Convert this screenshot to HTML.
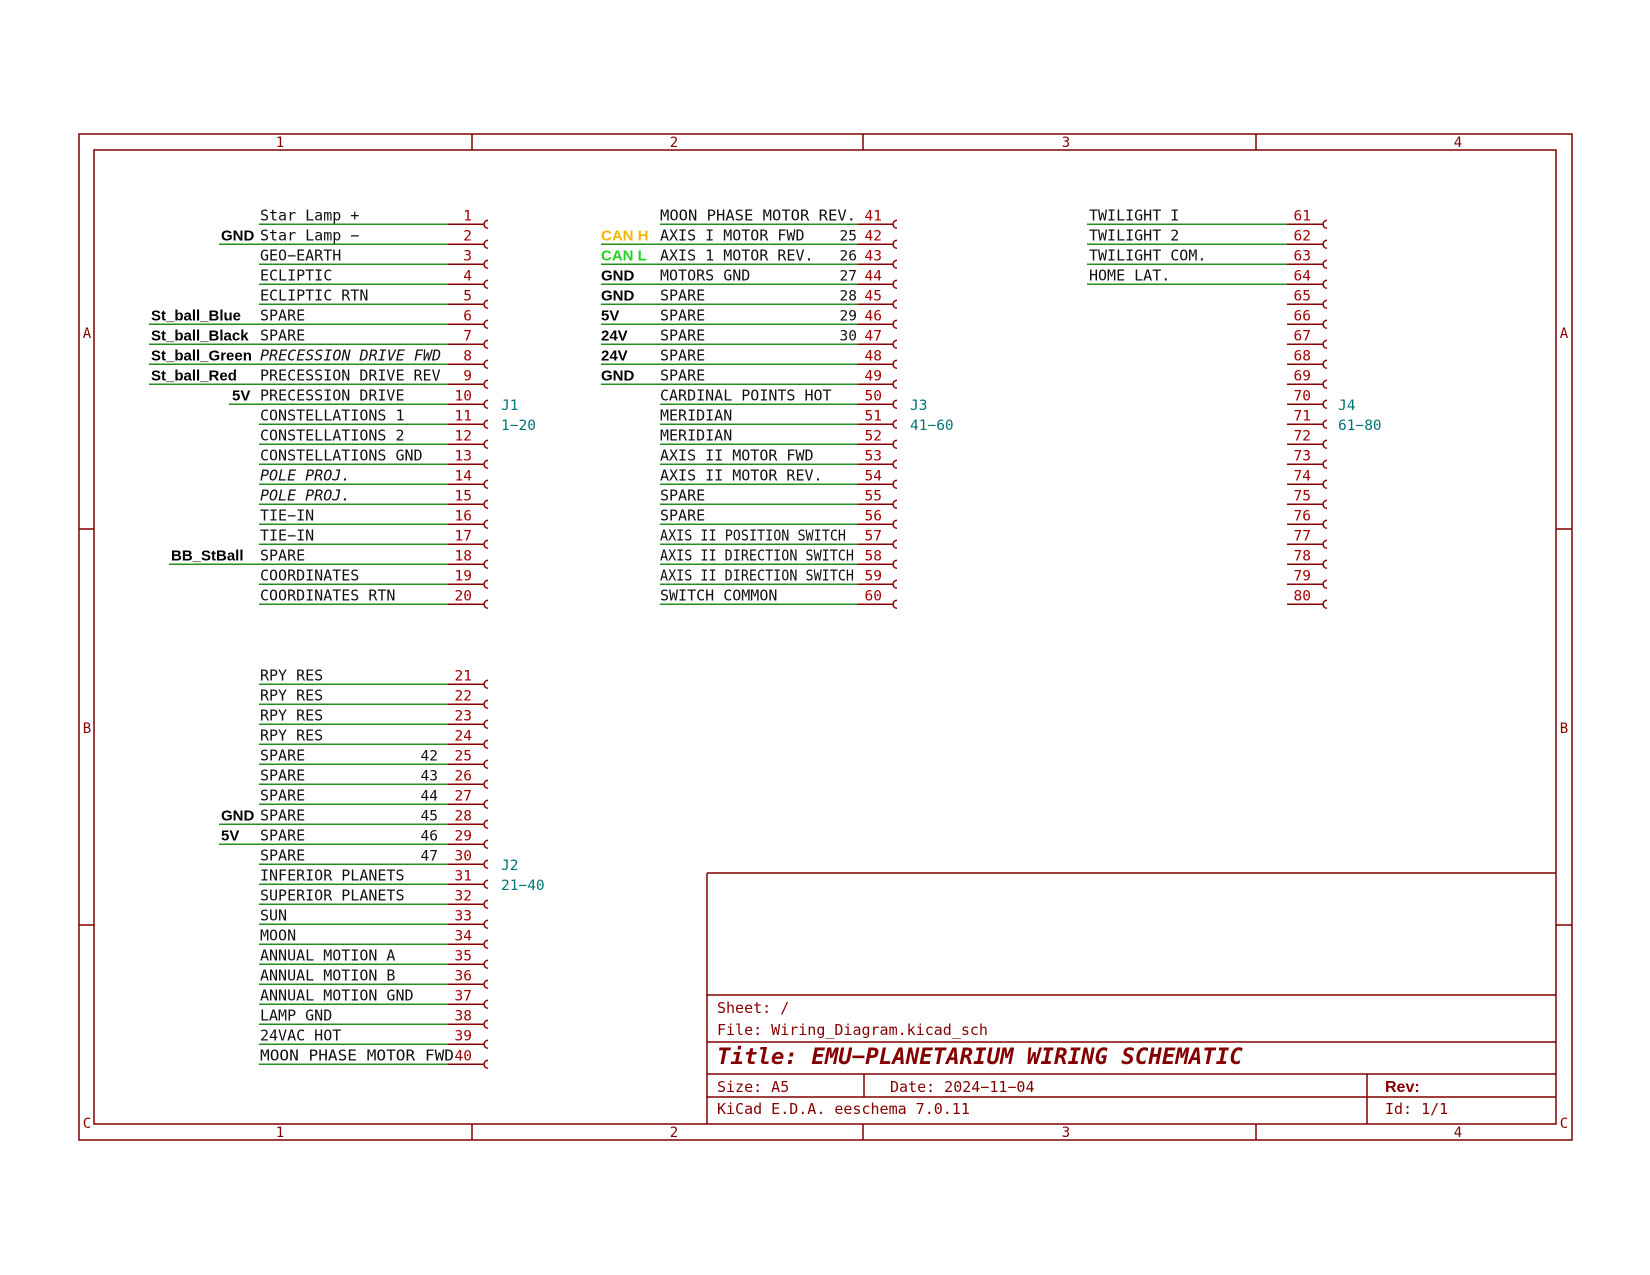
<!DOCTYPE html>
<html><head><meta charset="utf-8"><style>
html,body{margin:0;padding:0;background:#fff}
svg{display:block}
.t{font-family:"DejaVu Sans Mono","Liberation Mono",monospace;font-size:15px;fill:#111}
.n{font-family:"DejaVu Sans Mono","Liberation Mono",monospace;font-size:14.5px;fill:#a00000;text-anchor:end}
.k{font-family:"DejaVu Sans Mono","Liberation Mono",monospace;font-size:14.5px;fill:#111;text-anchor:end}
.b{font-family:"Liberation Sans","DejaVu Sans",sans-serif;font-size:15px;font-weight:bold;fill:#000}
.i{font-style:italic}
.j{font-family:"DejaVu Sans Mono","Liberation Mono",monospace;font-size:14.5px;fill:#007575}
.tb{font-family:"DejaVu Sans Mono","Liberation Mono",monospace;font-size:15px;fill:#840000}
.bd{font-family:"DejaVu Sans Mono","Liberation Mono",monospace;font-size:14px;fill:#840000;text-anchor:middle}
.g{stroke:#1f8f1f;stroke-width:1.5;fill:none}
.r{stroke:#8a0000;stroke-width:1.5;fill:none}
.f{stroke:#840000;stroke-width:1.5;fill:none}
</style></head><body>
<svg width="1650" height="1275" viewBox="0 0 1650 1275" xmlns="http://www.w3.org/2000/svg">
<!-- frame -->
<rect class="f" x="79" y="134" width="1493" height="1006"/>
<rect class="f" x="94" y="150" width="1462" height="974"/>
<path class="f" d="M472 134V150M863 134V150M1256 134V150M472 1124V1140M863 1124V1140M1256 1124V1140M79 529H94M79 925H94M1556 529H1572M1556 925H1572"/>
<text class="bd" x="280" y="147">1</text><text class="bd" x="674" y="147">2</text><text class="bd" x="1066" y="147">3</text><text class="bd" x="1458" y="147">4</text>
<text class="bd" x="280" y="1137">1</text><text class="bd" x="674" y="1137">2</text><text class="bd" x="1066" y="1137">3</text><text class="bd" x="1458" y="1137">4</text>
<text class="bd" x="87" y="338">A</text><text class="bd" x="87" y="733">B</text><text class="bd" x="87" y="1128">C</text>
<text class="bd" x="1564" y="338">A</text><text class="bd" x="1564" y="733">B</text><text class="bd" x="1564" y="1128">C</text>

<!-- title block -->
<path class="f" d="M707 873H1556M707 995H1556M707 1042H1556M707 1074H1556M707 1097H1556M707 873V1124M864 1074V1097M1367 1074V1124"/>
<text class="tb" x="717" y="1013">Sheet: /</text>
<text class="tb" x="717" y="1035">File: Wiring_Diagram.kicad_sch</text>
<text class="tb" x="717" y="1064" style="font-size:22.4px;font-weight:bold;font-style:italic">Title: EMU−PLANETARIUM WIRING SCHEMATIC</text>
<text class="tb" x="717" y="1092">Size: A5</text>
<text class="tb" x="890" y="1092">Date: 2024−11−04</text>
<text class="tb" x="1385" y="1092" style="font-weight:bold;font-family:'Liberation Sans',sans-serif;font-size:16px">Rev:</text>
<text class="tb" x="717" y="1114">KiCad E.D.A.  eeschema 7.0.11</text>
<text class="tb" x="1385" y="1114">Id: 1/1</text>

<!-- J1 -->
<path class="g" d="M259 224.3h189m-189 20h189m-189 20h189m-189 20h189m-189 20h189m-189 20h189m-189 20h189m-189 20h189m-189 20h189m-189 20h189m-189 20h189m-189 20h189m-189 20h189m-189 20h189m-189 20h189m-189 20h189m-189 20h189m-189 20h189m-189 20h189m-189 20h189"/>
<path class="g" d="M219 244.3H259M149 324.3H259M149 344.3H259M149 364.3H259M149 384.3H259M229 404.3H259M169 564.3H259"/>
<path class="r" d="M448 224.3h36m4-4a4 4 0 0 0 0 8m-40 16h36m4-4a4 4 0 0 0 0 8m-40 16h36m4-4a4 4 0 0 0 0 8m-40 16h36m4-4a4 4 0 0 0 0 8m-40 16h36m4-4a4 4 0 0 0 0 8m-40 16h36m4-4a4 4 0 0 0 0 8m-40 16h36m4-4a4 4 0 0 0 0 8m-40 16h36m4-4a4 4 0 0 0 0 8m-40 16h36m4-4a4 4 0 0 0 0 8m-40 16h36m4-4a4 4 0 0 0 0 8m-40 16h36m4-4a4 4 0 0 0 0 8m-40 16h36m4-4a4 4 0 0 0 0 8m-40 16h36m4-4a4 4 0 0 0 0 8m-40 16h36m4-4a4 4 0 0 0 0 8m-40 16h36m4-4a4 4 0 0 0 0 8m-40 16h36m4-4a4 4 0 0 0 0 8m-40 16h36m4-4a4 4 0 0 0 0 8m-40 16h36m4-4a4 4 0 0 0 0 8m-40 16h36m4-4a4 4 0 0 0 0 8m-40 16h36m4-4a4 4 0 0 0 0 8"/>
<text class="t" x="260" y="220.3">Star Lamp +</text>
<text class="t" x="260" y="240.3">Star Lamp −</text>
<text class="t" x="260" y="260.3">GEO−EARTH</text>
<text class="t" x="260" y="280.3">ECLIPTIC</text>
<text class="t" x="260" y="300.3">ECLIPTIC RTN</text>
<text class="t" x="260" y="320.3">SPARE</text>
<text class="t" x="260" y="340.3">SPARE</text>
<text class="t i" x="260" y="360.3" textLength="181" lengthAdjust="spacingAndGlyphs">PRECESSION DRIVE FWD</text>
<text class="t" x="260" y="380.3">PRECESSION DRIVE REV</text>
<text class="t" x="260" y="400.3">PRECESSION DRIVE</text>
<text class="t" x="260" y="420.3">CONSTELLATIONS 1</text>
<text class="t" x="260" y="440.3">CONSTELLATIONS 2</text>
<text class="t" x="260" y="460.3">CONSTELLATIONS GND</text>
<text class="t i" x="260" y="480.3">POLE PROJ.</text>
<text class="t i" x="260" y="500.3">POLE PROJ.</text>
<text class="t" x="260" y="520.3">TIE−IN</text>
<text class="t" x="260" y="540.3">TIE−IN</text>
<text class="t" x="260" y="560.3">SPARE</text>
<text class="t" x="260" y="580.3">COORDINATES</text>
<text class="t" x="260" y="600.3">COORDINATES RTN</text>
<text class="b" x="221" y="240.3">GND</text>
<text class="b" x="151" y="320.3">St_ball_Blue</text>
<text class="b" x="151" y="340.3">St_ball_Black</text>
<text class="b" x="151" y="360.3">St_ball_Green</text>
<text class="b" x="151" y="380.3">St_ball_Red</text>
<text class="b" x="232" y="400.3">5V</text>
<text class="b" x="171" y="560.3">BB_StBall</text>
<g>
<text class="n" x="472" y="220.3">1</text><text class="n" x="472" y="240.3">2</text><text class="n" x="472" y="260.3">3</text><text class="n" x="472" y="280.3">4</text><text class="n" x="472" y="300.3">5</text><text class="n" x="472" y="320.3">6</text><text class="n" x="472" y="340.3">7</text><text class="n" x="472" y="360.3">8</text><text class="n" x="472" y="380.3">9</text><text class="n" x="472" y="400.3">10</text><text class="n" x="472" y="420.3">11</text><text class="n" x="472" y="440.3">12</text><text class="n" x="472" y="460.3">13</text><text class="n" x="472" y="480.3">14</text><text class="n" x="472" y="500.3">15</text><text class="n" x="472" y="520.3">16</text><text class="n" x="472" y="540.3">17</text><text class="n" x="472" y="560.3">18</text><text class="n" x="472" y="580.3">19</text><text class="n" x="472" y="600.3">20</text>
</g>
<text class="j" x="501" y="410">J1</text><text class="j" x="501" y="430">1−20</text>

<!-- J2 -->
<path class="g" d="M259 684.3h189m-189 20h189m-189 20h189m-189 20h189m-189 20h189m-189 20h189m-189 20h189m-189 20h189m-189 20h189m-189 20h189m-189 20h189m-189 20h189m-189 20h189m-189 20h189m-189 20h189m-189 20h189m-189 20h189m-189 20h189m-189 20h189m-189 20h189"/>
<path class="g" d="M219 824.3H259M219 844.3H259"/>
<path class="r" d="M448 684.3h36m4-4a4 4 0 0 0 0 8m-40 16h36m4-4a4 4 0 0 0 0 8m-40 16h36m4-4a4 4 0 0 0 0 8m-40 16h36m4-4a4 4 0 0 0 0 8m-40 16h36m4-4a4 4 0 0 0 0 8m-40 16h36m4-4a4 4 0 0 0 0 8m-40 16h36m4-4a4 4 0 0 0 0 8m-40 16h36m4-4a4 4 0 0 0 0 8m-40 16h36m4-4a4 4 0 0 0 0 8m-40 16h36m4-4a4 4 0 0 0 0 8m-40 16h36m4-4a4 4 0 0 0 0 8m-40 16h36m4-4a4 4 0 0 0 0 8m-40 16h36m4-4a4 4 0 0 0 0 8m-40 16h36m4-4a4 4 0 0 0 0 8m-40 16h36m4-4a4 4 0 0 0 0 8m-40 16h36m4-4a4 4 0 0 0 0 8m-40 16h36m4-4a4 4 0 0 0 0 8m-40 16h36m4-4a4 4 0 0 0 0 8m-40 16h36m4-4a4 4 0 0 0 0 8m-40 16h36m4-4a4 4 0 0 0 0 8"/>
<text class="t" x="260" y="680.3">RPY RES</text>
<text class="t" x="260" y="700.3">RPY RES</text>
<text class="t" x="260" y="720.3">RPY RES</text>
<text class="t" x="260" y="740.3">RPY RES</text>
<text class="t" x="260" y="760.3">SPARE</text>
<text class="t" x="260" y="780.3">SPARE</text>
<text class="t" x="260" y="800.3">SPARE</text>
<text class="t" x="260" y="820.3">SPARE</text>
<text class="t" x="260" y="840.3">SPARE</text>
<text class="t" x="260" y="860.3">SPARE</text>
<text class="t" x="260" y="880.3">INFERIOR PLANETS</text>
<text class="t" x="260" y="900.3">SUPERIOR PLANETS</text>
<text class="t" x="260" y="920.3">SUN</text>
<text class="t" x="260" y="940.3">MOON</text>
<text class="t" x="260" y="960.3">ANNUAL MOTION A</text>
<text class="t" x="260" y="980.3">ANNUAL MOTION B</text>
<text class="t" x="260" y="1000.3">ANNUAL MOTION GND</text>
<text class="t" x="260" y="1020.3">LAMP GND</text>
<text class="t" x="260" y="1040.3">24VAC HOT</text>
<text class="t" x="260" y="1060.3" textLength="194" lengthAdjust="spacingAndGlyphs">MOON PHASE MOTOR FWD</text>
<text class="k" x="438" y="760.3">42</text><text class="k" x="438" y="780.3">43</text><text class="k" x="438" y="800.3">44</text><text class="k" x="438" y="820.3">45</text><text class="k" x="438" y="840.3">46</text><text class="k" x="438" y="860.3">47</text>
<text class="b" x="221" y="820.3">GND</text>
<text class="b" x="221" y="840.3">5V</text>
<g>
<text class="n" x="472" y="680.3">21</text><text class="n" x="472" y="700.3">22</text><text class="n" x="472" y="720.3">23</text><text class="n" x="472" y="740.3">24</text><text class="n" x="472" y="760.3">25</text><text class="n" x="472" y="780.3">26</text><text class="n" x="472" y="800.3">27</text><text class="n" x="472" y="820.3">28</text><text class="n" x="472" y="840.3">29</text><text class="n" x="472" y="860.3">30</text><text class="n" x="472" y="880.3">31</text><text class="n" x="472" y="900.3">32</text><text class="n" x="472" y="920.3">33</text><text class="n" x="472" y="940.3">34</text><text class="n" x="472" y="960.3">35</text><text class="n" x="472" y="980.3">36</text><text class="n" x="472" y="1000.3">37</text><text class="n" x="472" y="1020.3">38</text><text class="n" x="472" y="1040.3">39</text><text class="n" x="472" y="1060.3">40</text>
</g>
<text class="j" x="501" y="870">J2</text><text class="j" x="501" y="890">21−40</text>

<!-- J3 -->
<path class="g" d="M660 224.3h198m-198 20h198m-198 20h198m-198 20h198m-198 20h198m-198 20h198m-198 20h198m-198 20h198m-198 20h198m-198 20h198m-198 20h198m-198 20h198m-198 20h198m-198 20h198m-198 20h198m-198 20h198m-198 20h198m-198 20h198m-198 20h198m-198 20h198"/>
<path class="g" d="M601 244.3H660M601 264.3H660M601 284.3H660M601 304.3H660M601 324.3H660M601 344.3H660M601 364.3H660M601 384.3H660"/>
<path class="r" d="M858 224.3h35m4-4a4 4 0 0 0 0 8m-39 16h35m4-4a4 4 0 0 0 0 8m-39 16h35m4-4a4 4 0 0 0 0 8m-39 16h35m4-4a4 4 0 0 0 0 8m-39 16h35m4-4a4 4 0 0 0 0 8m-39 16h35m4-4a4 4 0 0 0 0 8m-39 16h35m4-4a4 4 0 0 0 0 8m-39 16h35m4-4a4 4 0 0 0 0 8m-39 16h35m4-4a4 4 0 0 0 0 8m-39 16h35m4-4a4 4 0 0 0 0 8m-39 16h35m4-4a4 4 0 0 0 0 8m-39 16h35m4-4a4 4 0 0 0 0 8m-39 16h35m4-4a4 4 0 0 0 0 8m-39 16h35m4-4a4 4 0 0 0 0 8m-39 16h35m4-4a4 4 0 0 0 0 8m-39 16h35m4-4a4 4 0 0 0 0 8m-39 16h35m4-4a4 4 0 0 0 0 8m-39 16h35m4-4a4 4 0 0 0 0 8m-39 16h35m4-4a4 4 0 0 0 0 8m-39 16h35m4-4a4 4 0 0 0 0 8"/>
<text class="t" x="660" y="220.3" textLength="196" lengthAdjust="spacingAndGlyphs">MOON PHASE MOTOR REV.</text>
<text class="t" x="660" y="240.3">AXIS I MOTOR FWD</text>
<text class="t" x="660" y="260.3">AXIS 1 MOTOR REV.</text>
<text class="t" x="660" y="280.3">MOTORS GND</text>
<text class="t" x="660" y="300.3">SPARE</text>
<text class="t" x="660" y="320.3">SPARE</text>
<text class="t" x="660" y="340.3">SPARE</text>
<text class="t" x="660" y="360.3">SPARE</text>
<text class="t" x="660" y="380.3">SPARE</text>
<text class="t" x="660" y="400.3">CARDINAL POINTS HOT</text>
<text class="t" x="660" y="420.3">MERIDIAN</text>
<text class="t" x="660" y="440.3">MERIDIAN</text>
<text class="t" x="660" y="460.3">AXIS II MOTOR FWD</text>
<text class="t" x="660" y="480.3">AXIS II MOTOR REV.</text>
<text class="t" x="660" y="500.3">SPARE</text>
<text class="t" x="660" y="520.3">SPARE</text>
<text class="t" x="660" y="540.3" textLength="186" lengthAdjust="spacingAndGlyphs">AXIS II POSITION SWITCH</text>
<text class="t" x="660" y="560.3" textLength="194" lengthAdjust="spacingAndGlyphs">AXIS II DIRECTION SWITCH</text>
<text class="t" x="660" y="580.3" textLength="194" lengthAdjust="spacingAndGlyphs">AXIS II DIRECTION SWITCH</text>
<text class="t" x="660" y="600.3">SWITCH COMMON</text>
<text class="k" x="857" y="240.3">25</text><text class="k" x="857" y="260.3">26</text><text class="k" x="857" y="280.3">27</text><text class="k" x="857" y="300.3">28</text><text class="k" x="857" y="320.3">29</text><text class="k" x="857" y="340.3">30</text>
<text class="b" x="601" y="240.3" style="fill:#f2b705">CAN H</text>
<text class="b" x="601" y="260.3" style="fill:#22d322">CAN L</text>
<text class="b" x="601" y="280.3">GND</text>
<text class="b" x="601" y="300.3">GND</text>
<text class="b" x="601" y="320.3">5V</text>
<text class="b" x="601" y="340.3">24V</text>
<text class="b" x="601" y="360.3">24V</text>
<text class="b" x="601" y="380.3">GND</text>
<g>
<text class="n" x="882" y="220.3">41</text><text class="n" x="882" y="240.3">42</text><text class="n" x="882" y="260.3">43</text><text class="n" x="882" y="280.3">44</text><text class="n" x="882" y="300.3">45</text><text class="n" x="882" y="320.3">46</text><text class="n" x="882" y="340.3">47</text><text class="n" x="882" y="360.3">48</text><text class="n" x="882" y="380.3">49</text><text class="n" x="882" y="400.3">50</text><text class="n" x="882" y="420.3">51</text><text class="n" x="882" y="440.3">52</text><text class="n" x="882" y="460.3">53</text><text class="n" x="882" y="480.3">54</text><text class="n" x="882" y="500.3">55</text><text class="n" x="882" y="520.3">56</text><text class="n" x="882" y="540.3">57</text><text class="n" x="882" y="560.3">58</text><text class="n" x="882" y="580.3">59</text><text class="n" x="882" y="600.3">60</text>
</g>
<text class="j" x="910" y="410">J3</text><text class="j" x="910" y="430">41−60</text>

<!-- J4 -->
<path class="g" d="M1087 224.3h200m-200 20h200m-200 20h200m-200 20h200"/>
<path class="r" d="M1287 224.3h36m4-4a4 4 0 0 0 0 8m-40 16h36m4-4a4 4 0 0 0 0 8m-40 16h36m4-4a4 4 0 0 0 0 8m-40 16h36m4-4a4 4 0 0 0 0 8m-40 16h36m4-4a4 4 0 0 0 0 8m-40 16h36m4-4a4 4 0 0 0 0 8m-40 16h36m4-4a4 4 0 0 0 0 8m-40 16h36m4-4a4 4 0 0 0 0 8m-40 16h36m4-4a4 4 0 0 0 0 8m-40 16h36m4-4a4 4 0 0 0 0 8m-40 16h36m4-4a4 4 0 0 0 0 8m-40 16h36m4-4a4 4 0 0 0 0 8m-40 16h36m4-4a4 4 0 0 0 0 8m-40 16h36m4-4a4 4 0 0 0 0 8m-40 16h36m4-4a4 4 0 0 0 0 8m-40 16h36m4-4a4 4 0 0 0 0 8m-40 16h36m4-4a4 4 0 0 0 0 8m-40 16h36m4-4a4 4 0 0 0 0 8m-40 16h36m4-4a4 4 0 0 0 0 8m-40 16h36m4-4a4 4 0 0 0 0 8"/>
<text class="t" x="1089" y="220.3">TWILIGHT I</text>
<text class="t" x="1089" y="240.3">TWILIGHT 2</text>
<text class="t" x="1089" y="260.3">TWILIGHT COM.</text>
<text class="t" x="1089" y="280.3">HOME LAT.</text>
<g>
<text class="n" x="1311" y="220.3">61</text><text class="n" x="1311" y="240.3">62</text><text class="n" x="1311" y="260.3">63</text><text class="n" x="1311" y="280.3">64</text><text class="n" x="1311" y="300.3">65</text><text class="n" x="1311" y="320.3">66</text><text class="n" x="1311" y="340.3">67</text><text class="n" x="1311" y="360.3">68</text><text class="n" x="1311" y="380.3">69</text><text class="n" x="1311" y="400.3">70</text><text class="n" x="1311" y="420.3">71</text><text class="n" x="1311" y="440.3">72</text><text class="n" x="1311" y="460.3">73</text><text class="n" x="1311" y="480.3">74</text><text class="n" x="1311" y="500.3">75</text><text class="n" x="1311" y="520.3">76</text><text class="n" x="1311" y="540.3">77</text><text class="n" x="1311" y="560.3">78</text><text class="n" x="1311" y="580.3">79</text><text class="n" x="1311" y="600.3">80</text>
</g>
<text class="j" x="1338" y="410">J4</text><text class="j" x="1338" y="430">61−80</text>
</svg>
</body></html>
